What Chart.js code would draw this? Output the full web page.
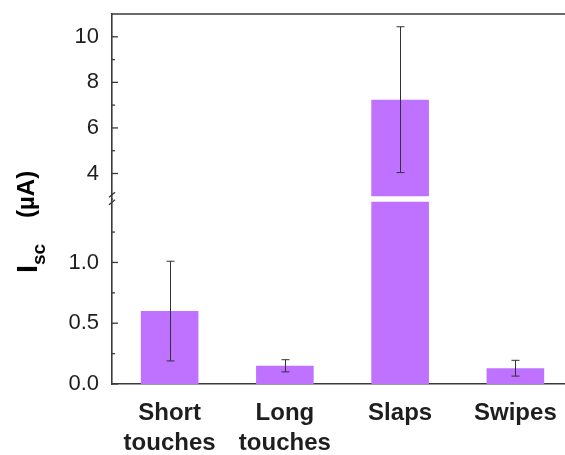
<!DOCTYPE html>
<html>
<head>
<meta charset="utf-8">
<script src="https://cdn.jsdelivr.net/npm/chart.js@4.4.1/dist/chart.umd.min.js"></script>
<style>
  html, body { margin: 0; padding: 0; background: #fff; overflow: hidden; }
  #wrap { width: 575px; height: 455px; }
</style>
</head>
<body>
<div id="wrap"><canvas id="chart" width="575" height="455"></canvas></div>
<script>
const categories = [['Short', 'touches'], ['Long', 'touches'], 'Slaps', 'Swipes'];
const means = [0.60, 0.15, 7.24, 0.13];
const errors = [0.41, 0.05, 3.2, 0.065];

// broken axis: lower part 0..1.5, upper part 3..11
const breakLow = 1.5;
const breakHigh = 3;
const lowerTicks = [0, 0.5, 1.0];
const lowerTickLabels = ['0.0', '0.5', '1.0'];
const lowerMinor = [0.25, 0.75, 1.25];
const upperTicks = [4, 6, 8, 10];
const upperTickLabels = ['4', '6', '8', '10'];
const upperMinor = [5, 7, 9];

const barColor = '#BE72FF';
const axisColor = '#3a3a3a';
const textColor = '#1e1e1e';

const lowerData = means.map(v => Math.min(v, breakLow));
const upperData = means.map(v => v > breakHigh ? [breakHigh, v] : null);

const extras = {
    id: 'extras',
    afterDatasetsDraw(chart) {
        const ctx = chart.ctx;
        const xs = chart.scales.x;
        const lo = chart.scales.yLow;
        const hi = chart.scales.yHigh;
        ctx.save();
        ctx.strokeStyle = '#333';
        ctx.lineWidth = 1;
        means.forEach((m, i) => {
            const sc = m > breakHigh ? hi : lo;
            const x = Math.round(xs.getPixelForValue(i)) + 0.5;
            const yT = sc.getPixelForValue(m + errors[i]);
            const yB = sc.getPixelForValue(m - errors[i]);
            ctx.beginPath();
            ctx.moveTo(x, yT); ctx.lineTo(x, yB);
            ctx.moveTo(x - 4, yT); ctx.lineTo(x + 4, yT);
            ctx.moveTo(x - 4, yB); ctx.lineTo(x + 4, yB);
            ctx.stroke();
        });
        ctx.restore();
    },
    afterDraw(chart) {
        const ctx = chart.ctx;
        const area = chart.chartArea;
        const lo = chart.scales.yLow;
        const hi = chart.scales.yHigh;
        const ax = area.left;
        ctx.save();
        ctx.strokeStyle = axisColor;
        ctx.lineWidth = 1.6;
        // top frame line
        ctx.beginPath();
        ctx.moveTo(ax, area.top);
        ctx.lineTo(area.right, area.top);
        ctx.stroke();
        // inward ticks
        const tick = (sc, v, len) => {
            const y = sc.getPixelForValue(v);
            ctx.beginPath();
            ctx.moveTo(ax, y);
            ctx.lineTo(ax + len, y);
            ctx.stroke();
        };
        ctx.lineWidth = 1.3;
        lowerTicks.forEach(v => tick(lo, v, 6));
        upperTicks.forEach(v => tick(hi, v, 6));
        lowerMinor.forEach(v => tick(lo, v, 3));
        upperMinor.forEach(v => tick(hi, v, 3));
        // break marks on the y axis
        const yA = hi.getPixelForValue(breakHigh);
        const yB = lo.getPixelForValue(breakLow);
        ctx.lineWidth = 1.4;
        ctx.beginPath();
        ctx.moveTo(ax - 3, yA + 1); ctx.lineTo(ax + 3, yA - 4);
        ctx.moveTo(ax - 3, yB + 3); ctx.lineTo(ax + 3, yB - 2);
        ctx.stroke();

        // y title: I_sc (µA)
        ctx.fillStyle = '#000';
        ctx.translate(37, 271);
        ctx.rotate(-Math.PI / 2);
        ctx.textBaseline = 'alphabetic';
        ctx.textAlign = 'left';
        ctx.font = 'bold 29px "Liberation Sans", Arial, sans-serif';
        ctx.fillText('I', -2, 0);
        ctx.font = 'bold 19px "Liberation Sans", Arial, sans-serif';
        ctx.fillText('sc', 6, 8);
        ctx.font = 'bold 24px "Liberation Sans", Arial, sans-serif';
        ctx.fillText('(\u00B5A)', 53, -3);
        ctx.restore();
    }
};

const tickFont = { family: '"Liberation Sans", Arial, sans-serif', size: 22 };
const noPad = s => { s.paddingTop = 0; s.paddingBottom = 0; s.width = 112; };

new Chart(document.getElementById('chart'), {
    type: 'bar',
    data: {
        labels: categories,
        datasets: [
            {
                data: lowerData,
                yAxisID: 'yLow',
                backgroundColor: barColor,
                borderWidth: 0,
                grouped: false,
                barPercentage: 0.5,
                categoryPercentage: 1
            },
            {
                data: upperData,
                yAxisID: 'yHigh',
                backgroundColor: barColor,
                borderWidth: 0,
                grouped: false,
                barPercentage: 0.5,
                categoryPercentage: 1
            }
        ]
    },
    options: {
        responsive: false,
        animation: false,
        devicePixelRatio: 1,
        layout: { padding: { top: 14, right: 2, bottom: 0, left: 0 } },
        plugins: {
            legend: { display: false },
            tooltip: { enabled: false }
        },
        scales: {
            x: {
                grid: { display: false },
                border: { display: true, color: axisColor, width: 1.6 },
                ticks: {
                    color: textColor,
                    padding: 6,
                    maxRotation: 0,
                    autoSkip: false,
                    font: { family: '"Liberation Sans", Arial, sans-serif', size: 24, weight: 'bold', lineHeight: 1.25 }
                },
                afterFit: s => { s.height = 71; s.paddingLeft = 0; s.paddingRight = 0; }
            },
            yHigh: {
                type: 'linear',
                position: 'left',
                stack: 'y',
                stackWeight: 185,
                weight: 1,
                min: 2.87,
                max: 11,
                grid: { display: false },
                border: { display: true, color: axisColor, width: 1.6 },
                ticks: {
                    color: textColor,
                    padding: 5,
                    font: tickFont,
                    callback: (v, i) => upperTickLabels[i]
                },
                afterBuildTicks: s => { s.ticks = upperTicks.map(v => ({ value: v })); },
                afterFit: noPad
            },
            yLow: {
                type: 'linear',
                position: 'left',
                stack: 'y',
                stackWeight: 184.5,
                weight: 0,
                min: 0,
                max: 1.52,
                grid: { display: false },
                border: { display: true, color: axisColor, width: 1.6 },
                ticks: {
                    color: textColor,
                    padding: 5,
                    font: tickFont,
                    callback: (v, i) => lowerTickLabels[i]
                },
                afterBuildTicks: s => { s.ticks = lowerTicks.map(v => ({ value: v })); },
                afterFit: noPad
            }
        }
    },
    plugins: [extras]
});
</script>
</body>
</html>
